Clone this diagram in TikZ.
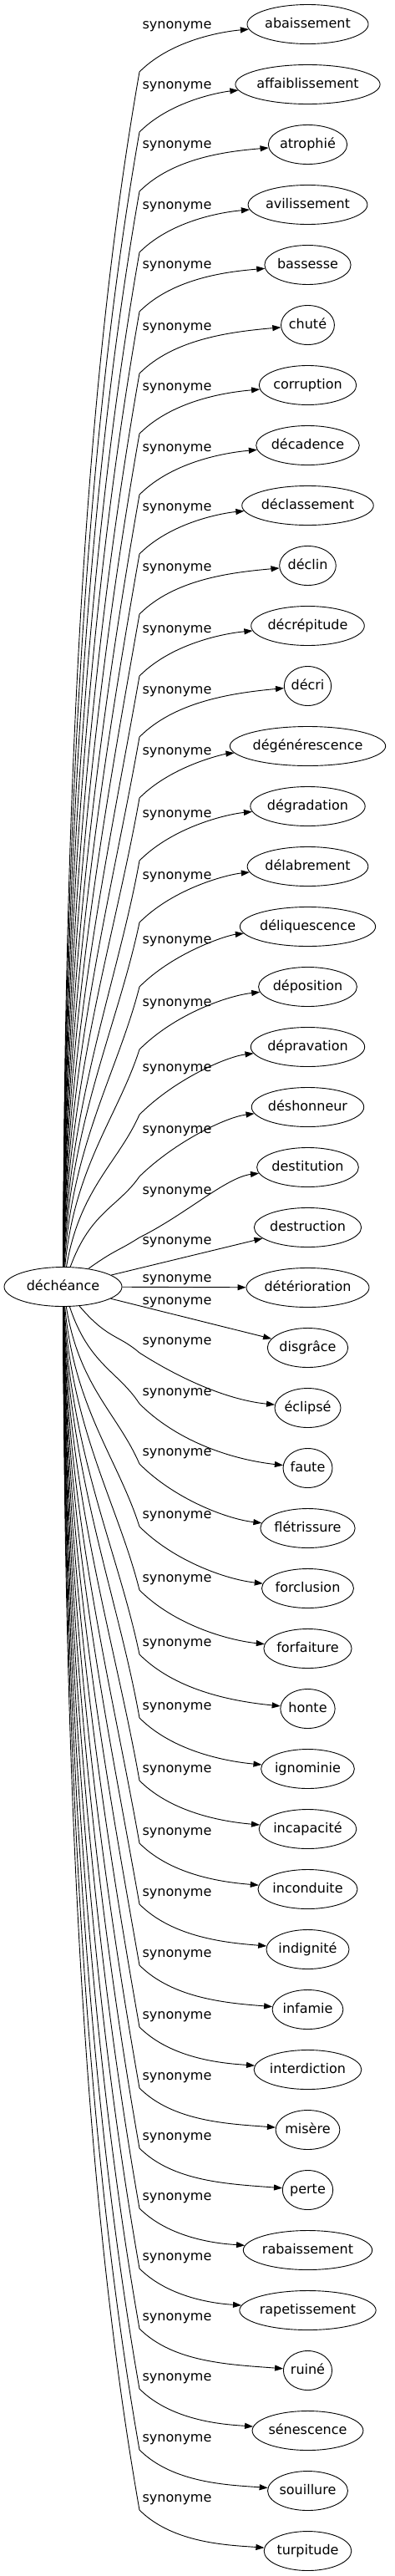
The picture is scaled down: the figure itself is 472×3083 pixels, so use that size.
\documentclass[tikz,border=0pt]{standalone}
\usepackage{fontspec}
\setmainfont{DejaVu Sans}
\usetikzlibrary{shapes.geometric,arrows.meta}
\newlength{\twid}
\begin{document}
\begin{tikzpicture}[x=1pt,y=-1pt,font=\fontsize{16}{19}\selectfont,
  tnode/.style={draw, ellipse, inner sep=0pt, minimum height=47pt, text height=13pt, text depth=3.5pt, line width=0.9pt},
  lab/.style={inner sep=0pt, text height=13pt, text depth=3.5pt},
  synarrow/.style={draw, line width=0.9pt, -{Triangle[length=10pt,width=7pt]}}]
\useasboundingbox (0,0) rectangle (472,3083);
\node[tnode, minimum width=141pt] (dech) at (75.5,1540) {déchéance};
\foreach \w/\ly [count=\i from 0] in {abaissement/30, affaiblissement/102, atrophié/173, avilissement/246, bassesse/317, chuté/391, corruption/463, décadence/536, déclassement/607, déclin/679, décrépitude/753, décri/826, dégénérescence/899, dégradation/974, délabrement/1048, déliquescence/1125, déposition/1200, dépravation/1278, déshonneur/1352, destitution/1425, destruction/1485, détérioration/1530, disgrâce/1557, éclipsé/1605, faute/1666, flétrissure/1738, forclusion/1813, forfaiture/1889, honte/1966, ignominie/2042, incapacité/2117, inconduite/2192, indignité/2265, infamie/2338, interdiction/2412, misère/2485, perte/2557, rabaissement/2629, rapetissement/2701, ruiné/2773, sénescence/2845, souillure/2918, turpitude/2990}{
  \settowidth{\twid}{\fontsize{16}{19}\selectfont \w}
  \pgfmathsetmacro\ew{1.18*\twid+36}
  \pgfmathsetlengthmacro\ewl{1.18*\twid+36pt}
  \pgfmathsetmacro\ty{29+72*\i}
  \node[tnode, minimum width=\ewl] (t\i) at (368.5,\ty) {\w};
  \node[lab] (l\i) at (212,\ly) {synonyme};
  \pgfmathtruncatemacro\grp{ifthenelse(\i<20,1,ifthenelse(\i>22,-1,0))}
  \ifnum\grp=0
    \draw[synarrow] (dech) -- (t\i);
  \else
    \pgfmathsetmacro\s{\grp}
    \pgfmathsetmacro\ky{\ly+ifthenelse(\grp==1,56,14)}
    \pgfmathsetmacro\dy{abs(\ky-1540)}
    \pgfmathsetmacro\D{100*veclen(0.915,\dy/100)}
    \pgfmathsetmacro\ch{atan2(\dy,91.5)}
    \pgfmathsetmacro\ps{\ch+(90-\ch)*max(0,(\ch-30)/60)}
    \pgfmathsetmacro\pa{min(80,\ch)}
    \pgfmathsetmacro\pb{min(45,0.8*\ch)}
    \pgfmathsetmacro\twx{368.5-\ew/2}
    \pgfmathsetmacro\gap{abs(\ky-\ty)}
    \pgfmathsetmacro\ddx{\twx-167}
    \pgfmathsetmacro\E{veclen(\ddx,\gap)}
    \pgfmathsetmacro\al{0.35*atan2(\gap,\ddx)}
    \pgfmathsetmacro\rA{0.35*\D+40}
    \pgfmathsetmacro\rB{0.28*\D}
    \coordinate (k\i) at (167,\ky);
    \draw[synarrow] (dech) .. controls ({75.5+\rA*cos(\ps)},{1540-(\s)*\rA*sin(\ps)}) and ({167-\rB*cos(\pa)},{\ky+(\s)*\rB*sin(\pa)}) .. (k\i) .. controls ({167+0.3*\E*cos(\pb)},{\ky-(\s)*0.3*\E*sin(\pb)}) and ({\twx-0.4*\E*cos(\al)},{\ty+(\s)*0.4*\E*sin(\al)}) .. (t\i);
  \fi
}
\end{tikzpicture}
\end{document}
